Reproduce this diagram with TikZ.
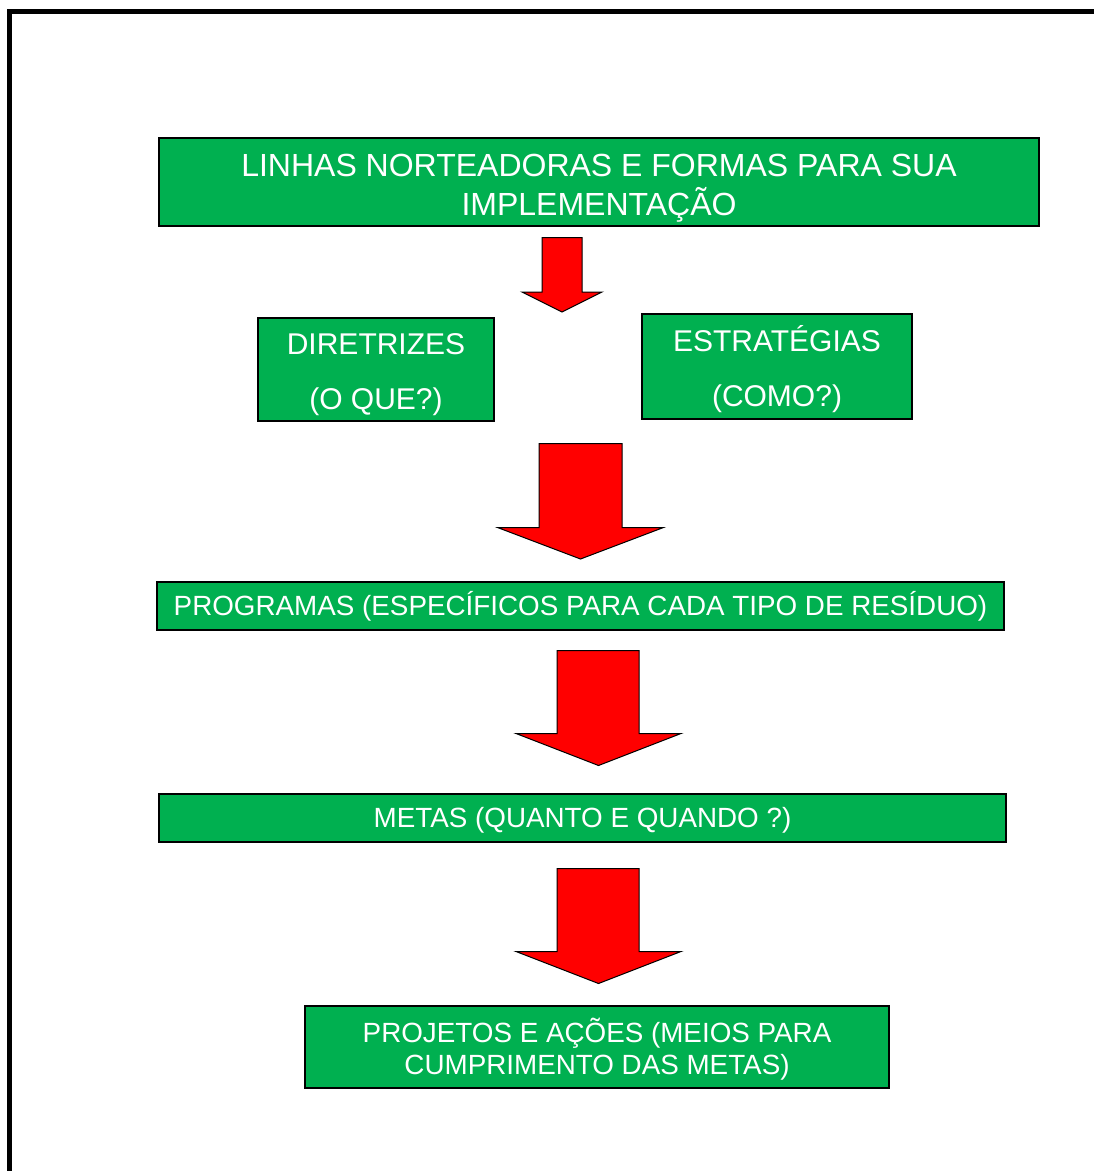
\documentclass[tikz,border=0pt]{standalone}
\usepackage{fontspec}
\setmainfont{Liberation Sans}
\definecolor{boxgreen}{RGB}{0,176,80}
\definecolor{arrowred}{RGB}{255,0,0}
\tikzset{
  greenbox/.style={draw=black, line width=1.2pt, fill=boxgreen,
    rectangle, inner sep=0pt},
  boxtext/.style={text=white, align=center, inner sep=0pt},
  redarrow/.style={draw=black, line width=1pt, fill=arrowred, line join=miter},
  frameline/.style={draw=black, line width=5pt, line join=miter}
}
\begin{document}
\begin{tikzpicture}[x=1pt, y=-1pt]
\useasboundingbox (0,0) rectangle (1094,1171);
% frame
\draw[frameline] (9.5,1175) -- (9.5,11.5) -- (1098,11.5);

% boxes
\node[greenbox, minimum width=880pt, minimum height=88pt] (top) at (599,182) {};
\node[boxtext, font=\fontsize{32}{38.5}\selectfont] (toptext)
  at ([yshift=-6pt]top.center) {LINHAS NORTEADORAS E FORMAS PARA SUA\\IMPLEMENTAÇÃO};

\node[greenbox, minimum width=236pt, minimum height=103pt] (dir) at (376,369.5) {};
\node[boxtext, font=\fontsize{30}{55}\selectfont] (dirtext)
  at ([yshift=-5pt]dir.center) {DIRETRIZES\\(O QUE?)};

\node[greenbox, minimum width=270pt, minimum height=105pt] (est) at (777,366.5) {};
\node[boxtext, font=\fontsize{30}{55}\selectfont] (esttext)
  at ([yshift=-3pt]est.center) {ESTRATÉGIAS\\(COMO?)};

\node[greenbox, minimum width=847pt, minimum height=48pt] (prog) at (580.5,606) {};
\node[boxtext, font=\fontsize{27.8}{33}\selectfont] (progtext)
  at ([yshift=-0.5pt]prog.center) {PROGRAMAS (ESPECÍFICOS PARA CADA TIPO DE RESÍDUO)};

\node[greenbox, minimum width=847pt, minimum height=48pt] (metas) at (582.5,818) {};
\node[boxtext, font=\fontsize{27.8}{33}\selectfont] (metastext)
  at ([yshift=-2pt]metas.center) {METAS (QUANTO E QUANDO ?)};

\node[greenbox, minimum width=584pt, minimum height=82pt] (proj) at (597,1047) {};
\node[boxtext, font=\fontsize{27.8}{32.5}\selectfont] (projtext)
  at ([yshift=-2pt]proj.center) {PROJETOS E AÇÕES (MEIOS PARA\\CUMPRIMENTO DAS METAS)};

% block arrows
\filldraw[redarrow] (542,237.5) -- (582,237.5) -- (582,292) -- (602,292)
  -- (562,312) -- (522,292) -- (542,292) -- cycle;
\filldraw[redarrow] (539,443.5) -- (622,443.5) -- (622,527.5) -- (663.5,527.5)
  -- (580.5,559) -- (497.5,527.5) -- (539,527.5) -- cycle;
\filldraw[redarrow] (557,650.5) -- (639,650.5) -- (639,733.5) -- (681,733.5)
  -- (598.5,765.5) -- (516,733.5) -- (557,733.5) -- cycle;
\filldraw[redarrow] (557,868.5) -- (639,868.5) -- (639,951.5) -- (681,951.5)
  -- (598.5,983.5) -- (516,951.5) -- (557,951.5) -- cycle;
\end{tikzpicture}
\end{document}
